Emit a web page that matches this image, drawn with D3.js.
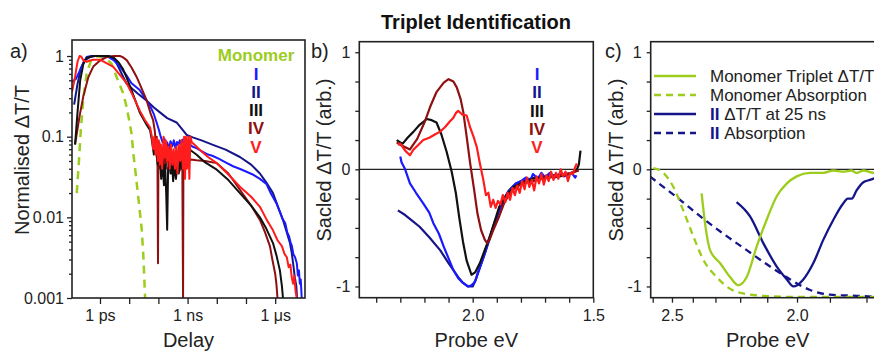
<!DOCTYPE html>
<html>
<head>
<meta charset="utf-8">
<script src="https://cdn.jsdelivr.net/npm/d3@7"></script>
<style>
  body { margin: 0; background: #fff; }
  svg { font-family: "Liberation Sans", Arial, sans-serif; }
</style>
</head>
<body>
<script>
// ---- tick labels ----
const delayTicks = [1, 10, 100, 1e3, 1e4, 1e5, 1e6];
const delayTickLabels = ["1 ps", "", "", "1 ns", "", "", "1 μs"];
const normTicks = [1, 0.1, 0.01, 0.001];
const normTickLabels = ["1", "0.1", "0.01", "0.001"];
const scaledTicks = [-1, -0.75, -0.5, -0.25, 0, 0.25, 0.5, 0.75, 1];
const scaledTickLabels = ["-1", "", "", "", "0", "", "", "", "1"];
const probeTicksB = [2.4, 2.3, 2.2, 2.1, 2.0, 1.9, 1.8, 1.7, 1.6, 1.5];
const probeTickLabelsB = ["", "", "", "", "2.0", "", "", "", "", "1.5"];
const probeTicksC = [2.6, 2.5, 2.4, 2.3, 2.2, 2.1, 2.0, 1.9, 1.8];
const probeTickLabelsC = ["", "2.5", "", "", "", "", "2.0", "", ""];
const kinNames = ["I", "II", "III", "IV", "V"];
const legendC = ["Monomer Triplet ΔT/T", "Monomer Absorption", "ΔT/T at 25 ns", "Absorption"];

// ---- panel a: kinetics [delay ps, normalised dT/T] ----
const monomerKin = [[0.16,0.02],[0.19,0.05],[0.22,0.12],[0.27,0.3],[0.35,0.6],[0.5,0.9],[0.8,1],[1.5,0.95],[2.5,0.8],[3.7,0.55],[5,0.42],[6.3,0.34],[8,0.24],[10,0.16],[12,0.11],[14,0.06],[16,0.04],[18,0.027],[22,0.014],[27,0.007],[31,0.003],[35,0.001]];
const kinI = [[0.11,0.48],[0.15,0.52],[0.2,0.65],[0.28,0.85],[0.35,0.97],[0.5,1],[1,1],[2,0.97],[3,0.88],[4.8,0.74],[8,0.58],[12,0.46],[23,0.38],[35,0.3],[52,0.24],[70,0.19],[87,0.15],[105,0.12],[120,0.1],[140,0.085],[160,0.095],[180,0.075],[200,0.085],[230,0.07],[260,0.088],[300,0.076],[340,0.09],[380,0.072],[430,0.086],[480,0.078],[540,0.09],[600,0.08],[680,0.092],[760,0.082],[850,0.09],[950,0.085],[1100,0.082],[1500,0.075],[2000,0.072],[3000,0.066],[5000,0.06],[7000,0.058],[1.2e4,0.053],[2e4,0.048],[3.6e4,0.043],[6e4,0.04],[1e5,0.037],[1.7e5,0.034],[3e5,0.03],[5e5,0.026],[7e5,0.02],[9e5,0.017],[1.1e6,0.015],[1.4e6,0.012],[1.8e6,0.0095],[2.2e6,0.0085],[2.6e6,0.0065],[3e6,0.0058],[3.4e6,0.0048],[3.7e6,0.0045],[4.2e6,0.0035],[4.8e6,0.0032],[5.5e6,0.0027],[6e6,0.0019],[6.5e6,0.0022],[7e6,0.0015],[7.5e6,0.0017],[8.1e6,0.001]];
const kinII = [[0.13,0.25],[0.17,0.45],[0.22,0.7],[0.3,0.88],[0.45,0.97],[0.7,1],[1.5,1],[2.5,0.97],[3.5,0.85],[5,0.65],[8,0.46],[13,0.39],[20,0.34],[40,0.28],[70,0.23],[113,0.2],[200,0.17],[420,0.15],[700,0.12],[930,0.105],[1500,0.098],[3000,0.09],[7400,0.079],[2e4,0.069],[6.2e4,0.056],[1.5e5,0.045],[3e5,0.035],[5e5,0.027],[8.4e5,0.02],[1.3e6,0.013],[1.85e6,0.0093],[2.5e6,0.0065],[3.2e6,0.0048],[3.7e6,0.0036],[4.1e6,0.0027],[4.7e6,0.0018],[5.3e6,0.0014],[5.6e6,0.001]];
const kinIII = [[0.14,0.08],[0.17,0.2],[0.21,0.5],[0.27,0.8],[0.35,0.95],[0.6,1],[1,1],[2,1],[3,0.95],[4.5,0.82],[6,0.7],[8,0.55],[13,0.35],[23,0.2],[40,0.14],[52,0.12],[60,0.09],[70,0.06],[80,0.075],[95,0.045],[110,0.06],[125,0.03],[140,0.05],[155,0.025],[170,0.045],[185,0.02],[200,0.007],[215,0.04],[235,0.055],[260,0.035],[290,0.05],[320,0.028],[360,0.045],[400,0.03],[450,0.05],[500,0.035],[560,0.055],[630,0.04],[700,0.06],[800,0.045],[900,0.065],[1000,0.05],[1100,0.07],[1200,0.069],[2000,0.06],[4000,0.048],[1e4,0.039],[2.5e4,0.029],[6.2e4,0.02],[1.5e5,0.014],[3e5,0.01],[5e5,0.0072],[8.4e5,0.0048],[1.1e6,0.0034],[1.45e6,0.0022],[1.7e6,0.0014],[1.85e6,0.001]];
const kinIV = [[0.14,0.08],[0.2,0.18],[0.27,0.32],[0.4,0.55],[0.59,0.74],[1,0.88],[1.7,0.97],[3,1],[4.8,1],[6,0.97],[8.2,0.89],[12,0.72],[18,0.55],[28,0.38],[40,0.28],[55,0.19],[66,0.16],[75,0.12],[82,0.08],[88,0.1],[93,0.05],[97,0.0027],[100,0.05],[108,0.085],[118,0.04],[130,0.07],[145,0.035],[160,0.065],[180,0.04],[200,0.08],[225,0.045],[250,0.07],[280,0.035],[310,0.06],[350,0.04],[390,0.065],[430,0.045],[480,0.06],[540,0.038],[600,0.065],[660,0.045],[700,0.001],[720,0.05],[800,0.062],[900,0.048],[1000,0.06],[1150,0.05],[1300,0.052],[2000,0.051],[4000,0.05],[1e4,0.047],[2.5e4,0.035],[6.2e4,0.022],[1.5e5,0.014],[3e5,0.0093],[4.5e5,0.0065],[6.6e5,0.0044],[8e5,0.003],[1e6,0.002],[1.1e6,0.0015],[1.2e6,0.001]];
const kinV = [[0.11,0.36],[0.14,0.55],[0.17,0.85],[0.2,1],[0.23,0.98],[0.27,0.88],[0.35,0.85],[0.45,0.88],[0.6,0.9],[1,0.9],[1.6,0.82],[2.8,0.74],[4.5,0.6],[8.2,0.46],[13,0.33],[23,0.21],[35,0.16],[52,0.13],[60,0.1],[66,0.07],[72,0.1],[80,0.06],[88,0.095],[95,0.05],[103,0.09],[112,0.045],[122,0.08],[135,0.04],[150,0.1],[165,0.055],[180,0.09],[200,0.05],[220,0.075],[245,0.04],[270,0.08],[300,0.045],[335,0.07],[370,0.04],[410,0.075],[450,0.035],[500,0.08],[560,0.05],[620,0.09],[690,0.04],[760,0.1],[820,0.03],[880,0.1],[950,0.04],[1050,0.1],[1150,0.03],[1250,0.1],[1400,0.085],[1700,0.08],[2500,0.07],[5000,0.056],[1e4,0.047],[2.5e4,0.034],[6.2e4,0.024],[1.5e5,0.018],[3e5,0.0135],[5e5,0.0095],[8.4e5,0.0069],[1.2e6,0.0052],[1.7e6,0.0044],[2.1e6,0.0035],[2.5e6,0.0032],[2.9e6,0.0024],[3.3e6,0.0026],[3.7e6,0.0018],[4.1e6,0.0015],[4.5e6,0.0019],[5e6,0.0012],[5.5e6,0.001]];

// ---- panel b: spectra [probe eV, scaled dT/T] ----
const specI = [[2.30,0.11],[2.295,0.06],[2.28,0.0],[2.26,-0.12],[2.235,-0.2],[2.205,-0.29],[2.18,-0.37],[2.163,-0.46],[2.14,-0.55],[2.12,-0.66],[2.10,-0.76],[2.08,-0.86],[2.06,-0.93],[2.04,-0.97],[2.02,-1.0],[2.005,-0.99],[1.99,-0.96],[1.98,-0.89],[1.96,-0.78],[1.94,-0.66],[1.915,-0.5],[1.89,-0.35],[1.86,-0.22],[1.84,-0.16],[1.82,-0.12],[1.80,-0.1],[1.78,-0.07],[1.76,-0.09],[1.75,-0.04],[1.73,-0.08],[1.715,-0.03],[1.70,-0.07],[1.68,-0.03],[1.66,-0.07],[1.64,-0.04],[1.62,-0.06],[1.61,-0.05],[1.59,-0.03],[1.575,-0.07],[1.57,-0.05]];
const specII = [[2.31,-0.35],[2.28,-0.39],[2.25,-0.44],[2.22,-0.49],[2.18,-0.58],[2.135,-0.69],[2.10,-0.8],[2.08,-0.86],[2.06,-0.92],[2.04,-0.97],[2.02,-1.0],[2.0,-1.0],[1.985,-0.93],[1.97,-0.84],[1.95,-0.72],[1.93,-0.58],[1.91,-0.46],[1.89,-0.35],[1.87,-0.25],[1.85,-0.18],[1.82,-0.12],[1.78,-0.09],[1.74,-0.07],[1.70,-0.06],[1.66,-0.05],[1.62,-0.04],[1.58,-0.03]];
const specIII = [[2.315,0.25],[2.30,0.23],[2.29,0.22],[2.27,0.27],[2.246,0.32],[2.22,0.38],[2.19,0.43],[2.17,0.42],[2.15,0.4],[2.13,0.3],[2.108,0.15],[2.087,-0.02],[2.07,-0.2],[2.055,-0.42],[2.04,-0.62],[2.025,-0.78],[2.005,-0.9],[1.99,-0.88],[1.97,-0.8],[1.95,-0.69],[1.93,-0.58],[1.91,-0.45],[1.89,-0.32],[1.86,-0.22],[1.83,-0.15],[1.79,-0.11],[1.75,-0.08],[1.70,-0.07],[1.64,-0.06],[1.60,-0.04],[1.57,-0.01],[1.56,0.04],[1.553,0.16]];
const specIV = [[2.315,0.23],[2.30,0.21],[2.26,0.17],[2.23,0.26],[2.2,0.4],[2.177,0.53],[2.15,0.66],[2.12,0.74],[2.10,0.77],[2.08,0.75],[2.066,0.70],[2.05,0.6],[2.039,0.49],[2.025,0.28],[2.011,0.06],[1.995,-0.16],[1.98,-0.38],[1.965,-0.52],[1.95,-0.6],[1.94,-0.63],[1.93,-0.6],[1.915,-0.52],[1.89,-0.4],[1.87,-0.29],[1.845,-0.2],[1.82,-0.15],[1.79,-0.12],[1.75,-0.1],[1.71,-0.08],[1.67,-0.06],[1.63,-0.05],[1.59,-0.03],[1.56,-0.01]];
const specV = [[2.31,0.21],[2.30,0.22],[2.28,0.16],[2.26,0.12],[2.245,0.17],[2.23,0.2],[2.205,0.25],[2.18,0.27],[2.155,0.3],[2.136,0.32],[2.115,0.36],[2.094,0.41],[2.08,0.44],[2.07,0.48],[2.06,0.5],[2.045,0.47],[2.025,0.46],[2.011,0.36],[1.995,0.27],[1.983,0.19],[1.97,0.05],[1.956,-0.09],[1.945,-0.22],[1.935,-0.2],[1.925,-0.32],[1.915,-0.26],[1.905,-0.33],[1.895,-0.27],[1.885,-0.3],[1.875,-0.22],[1.865,-0.28],[1.855,-0.2],[1.845,-0.26],[1.835,-0.16],[1.825,-0.22],[1.815,-0.14],[1.805,-0.2],[1.795,-0.1],[1.785,-0.17],[1.775,-0.07],[1.765,-0.15],[1.755,-0.09],[1.745,-0.18],[1.735,-0.06],[1.725,-0.12],[1.715,-0.04],[1.705,-0.13],[1.695,-0.05],[1.685,-0.1],[1.675,-0.02],[1.665,-0.09],[1.655,-0.03],[1.645,-0.08],[1.635,0.0],[1.625,-0.06],[1.615,-0.02],[1.605,-0.1],[1.595,-0.03],[1.585,-0.04],[1.575,0.02],[1.568,0.05]];

// ---- panel c: [probe eV, scaled] ----
const monoTriplet = [[2.36,-0.205],[2.345,-0.46],[2.323,-0.69],[2.281,-0.8],[2.24,-0.92],[2.207,-0.99],[2.175,-0.92],[2.138,-0.66],[2.102,-0.43],[2.067,-0.23],[2.033,-0.12],[2.001,-0.06],[1.959,-0.03],[1.919,-0.03],[1.89,-0.01],[1.862,-0.02],[1.84,-0.01],[1.826,-0.03],[1.808,-0.01],[1.782,-0.03],[1.76,-0.02]];
const monoAbs = [[2.597,0.01],[2.544,-0.03],[2.493,-0.15],[2.445,-0.35],[2.398,-0.57],[2.353,-0.77],[2.295,-0.92],[2.24,-1.02],[2.188,-1.06],[2.114,-1.08],[1.99,-1.09],[1.76,-1.09]];
const triplet25ns = [[2.214,-0.28],[2.163,-0.4],[2.114,-0.63],[2.067,-0.83],[2.033,-0.94],[2.012,-1.0],[1.98,-0.94],[1.949,-0.8],[1.919,-0.6],[1.89,-0.43],[1.862,-0.29],[1.85,-0.25],[1.839,-0.25],[1.826,-0.18],[1.808,-0.11],[1.791,-0.09],[1.766,-0.06]];
const absII = [[2.615,-0.06],[2.544,-0.15],[2.46,-0.26],[2.367,-0.4],[2.267,-0.55],[2.175,-0.69],[2.09,-0.83],[2.022,-0.94],[1.959,-1.03],[1.9,-1.07],[1.826,-1.08],[1.766,-1.09]];

const FONT = '"Liberation Sans", Arial, sans-serif';
const colGreen = "#9ccc1c", colBlue = "#1a1aff", colNavy = "#15158a",
      colBlack = "#111", colDark = "#8e1010", colRed = "#ff1c1c";
const kinColors = [colBlue, colNavy, colBlack, colDark, colRed];

const svg = d3.select("body").append("svg").attr("width", 874).attr("height", 352);

function styleAxis(g) {
  g.attr("font-size", 16).attr("font-family", FONT);
  g.select(".domain").remove();
  g.selectAll(".tick line").attr("stroke", "#222").attr("stroke-width", 1.3);
  g.selectAll(".tick text").attr("fill", "#222");
}
function frame(x0, x1, y0, y1) {
  svg.append("rect").attr("x", x0).attr("y", y0).attr("width", x1 - x0).attr("height", y1 - y0)
    .attr("fill", "none").attr("stroke", "#222").attr("stroke-width", 1.6);
}
function clip(id, x0, x1, y0, y1) {
  svg.append("clipPath").attr("id", id).append("rect")
    .attr("x", x0).attr("y", y0).attr("width", x1 - x0).attr("height", y1 - y0);
  return svg.append("g").attr("clip-path", `url(#${id})`);
}
function text(x, y, s, size, opts = {}) {
  const t = svg.append("text").attr("x", x).attr("y", y).text(s)
    .attr("font-size", size).attr("fill", opts.fill || "#222")
    .attr("text-anchor", opts.anchor || "start")
    .attr("font-weight", opts.bold ? "bold" : "normal");
  if (opts.rot) t.attr("transform", `rotate(-90,${x},${y})`);
  return t;
}

// title
text(476, 29, "Triplet Identification", 20, { anchor: "middle", bold: true, fill: "#111" });

// ================= panel a =================
const aL = 72, aR = 305, aT = 40, aB = 298;
const ax = d3.scaleLog().domain([0.11, 1.05e7]).range([aL, aR]);
const ay = d3.scaleLog().domain([0.001, 1.58]).range([aB, aT]);
const minorA = [];
normTicks.forEach(d => { for (let k = 2; k <= 9; k++) if (d * k < 1.58) minorA.push(d * k); });

svg.append("g").attr("transform", `translate(0,${aB})`)
  .call(d3.axisBottom(ax).tickValues(delayTicks).tickFormat((d, i) => delayTickLabels[i]).tickSize(6).tickPadding(6))
  .call(styleAxis);
svg.append("g").attr("transform", `translate(${aL},0)`)
  .call(d3.axisLeft(ay).tickValues(minorA).tickFormat("").tickSize(3)).call(styleAxis);
svg.append("g").attr("transform", `translate(${aL},0)`)
  .call(d3.axisLeft(ay).tickValues(normTicks).tickFormat((d, i) => normTickLabels[i]).tickSize(5).tickPadding(3))
  .call(styleAxis);

const gA = clip("clipA", aL, aR, aT, aB);
const lineA = d3.line().x(d => ax(d[0])).y(d => ay(d[1]));
gA.append("path").datum(monomerKin).attr("d", lineA).attr("fill", "none")
  .attr("stroke", colGreen).attr("stroke-width", 2.5).attr("stroke-dasharray", "8,6");
[kinII, kinI, kinIV, kinIII, kinV].forEach((s, i) => {
  const c = [colNavy, colBlue, colDark, colBlack, colRed][i];
  gA.append("path").datum(s).attr("d", lineA).attr("fill", "none")
    .attr("stroke", c).attr("stroke-width", 2).attr("stroke-linejoin", "round");
});
frame(aL, aR, aT, aB);

text(256, 61, "Monomer", 17, { anchor: "middle", bold: true, fill: colGreen });
kinNames.forEach((n, i) => text(256, 79.5 + i * 18.3, n, 17, { anchor: "middle", bold: true, fill: kinColors[i] }));
text(10, 58, "a)", 20);
text(29, 160, "Normalised ΔT/T", 20, { anchor: "middle", rot: true });
text((aL + aR) / 2, 347, "Delay", 20, { anchor: "middle" });

// ================= panel b =================
const bL = 359.3, bR = 593.3, bT = 41.7, bB = 297.7;
const bx = d3.scaleLinear().domain([2.47, 1.5]).range([bL, bR]);
const by = d3.scaleLinear().domain([-1.096, 1.09]).range([bB, bT]);

svg.append("g").attr("transform", `translate(0,${bB})`)
  .call(d3.axisBottom(bx).tickValues(probeTicksB).tickFormat((d, i) => probeTickLabelsB[i]).tickSize(5).tickPadding(7))
  .call(styleAxis);
svg.append("g").attr("transform", `translate(${bL},0)`)
  .call(d3.axisLeft(by).tickValues(scaledTicks).tickFormat((d, i) => scaledTickLabels[i]).tickSize(4).tickPadding(5))
  .call(styleAxis);

const gB = clip("clipB", bL, bR, bT, bB);
gB.append("line").attr("x1", bL).attr("x2", bR).attr("y1", by(0)).attr("y2", by(0))
  .attr("stroke", "#222").attr("stroke-width", 1.4);
const lineB = d3.line().x(d => bx(d[0])).y(d => by(d[1]));
[specII, specI, specIII, specIV, specV].forEach((s, i) => {
  const c = [colNavy, colBlue, colBlack, colDark, colRed][i];
  gB.append("path").datum(s).attr("d", lineB).attr("fill", "none")
    .attr("stroke", c).attr("stroke-width", 2.2).attr("stroke-linejoin", "round");
});
frame(bL, bR, bT, bB);
kinNames.forEach((n, i) => text(537, 80 + i * 18.3, n, 17, { anchor: "middle", bold: true, fill: kinColors[i] }));
text(311, 58, "b)", 20);
text(331, 160, "Sacled ΔT/T (arb.)", 20, { anchor: "middle", rot: true });
text((bL + bR) / 2, 347, "Probe eV", 20, { anchor: "middle" });

// ================= panel c (axis linear in wavelength) =================
const cL = 650.7, cR = 884.7, cT = 41.7, cB = 297.7;
const nm = e => 1240 / e;
const cxNm = d3.scaleLinear().domain([nm(2.611), nm(1.754)]).range([cL, cR]);
const cx = e => cxNm(nm(e));
const cy = by.copy().range([cB, cT]);

svg.append("g").attr("transform", `translate(0,${cB})`)
  .call(d3.axisBottom(cxNm).tickValues(probeTicksC.map(nm)).tickFormat((d, i) => probeTickLabelsC[i]).tickSize(5).tickPadding(7))
  .call(styleAxis);
svg.append("g").attr("transform", `translate(${cL},0)`)
  .call(d3.axisLeft(cy).tickValues(scaledTicks).tickFormat((d, i) => scaledTickLabels[i]).tickSize(4).tickPadding(5))
  .call(styleAxis);

const gC = clip("clipC", cL, cR, cT, cB);
gC.append("line").attr("x1", cL).attr("x2", cR).attr("y1", cy(0)).attr("y2", cy(0))
  .attr("stroke", "#222").attr("stroke-width", 1.4);
const lineC = d3.line().x(d => cx(d[0])).y(d => cy(d[1])).curve(d3.curveMonotoneX);
const cSeries = [
  { data: absII, color: colNavy, dash: "7,5" },
  { data: monoAbs, color: colGreen, dash: "7,5" },
  { data: triplet25ns, color: colNavy, dash: null },
  { data: monoTriplet, color: colGreen, dash: null }
];
cSeries.forEach(s => {
  gC.append("path").datum(s.data).attr("d", lineC).attr("fill", "none")
    .attr("stroke", s.color).attr("stroke-width", 2.3).attr("stroke-dasharray", s.dash);
});
frame(cL, cR, cT, cB);

// legend c
const legStyle = [
  { color: colGreen, dash: null, tag: "" },
  { color: colGreen, dash: "7,5", tag: "" },
  { color: colNavy, dash: null, tag: "II" },
  { color: colNavy, dash: "7,5", tag: "II" }
];
legStyle.forEach((s, i) => {
  const y = 76 + i * 19;
  svg.append("line").attr("x1", 654).attr("x2", 696).attr("y1", y).attr("y2", y)
    .attr("stroke", s.color).attr("stroke-width", 2.3).attr("stroke-dasharray", s.dash);
  const t = svg.append("text").attr("x", 710).attr("y", y + 6).attr("font-size", 17).attr("fill", "#222");
  if (s.tag) t.append("tspan").attr("font-weight", "bold").attr("fill", colNavy).text(s.tag + " ");
  t.append("tspan").text(legendC[i]);
});
text(605, 58, "c)", 20);
text(623, 160, "Sacled ΔT/T (arb.)", 20, { anchor: "middle", rot: true });
text((cL + cR) / 2, 347, "Probe eV", 20, { anchor: "middle" });
</script>
</body>
</html>
